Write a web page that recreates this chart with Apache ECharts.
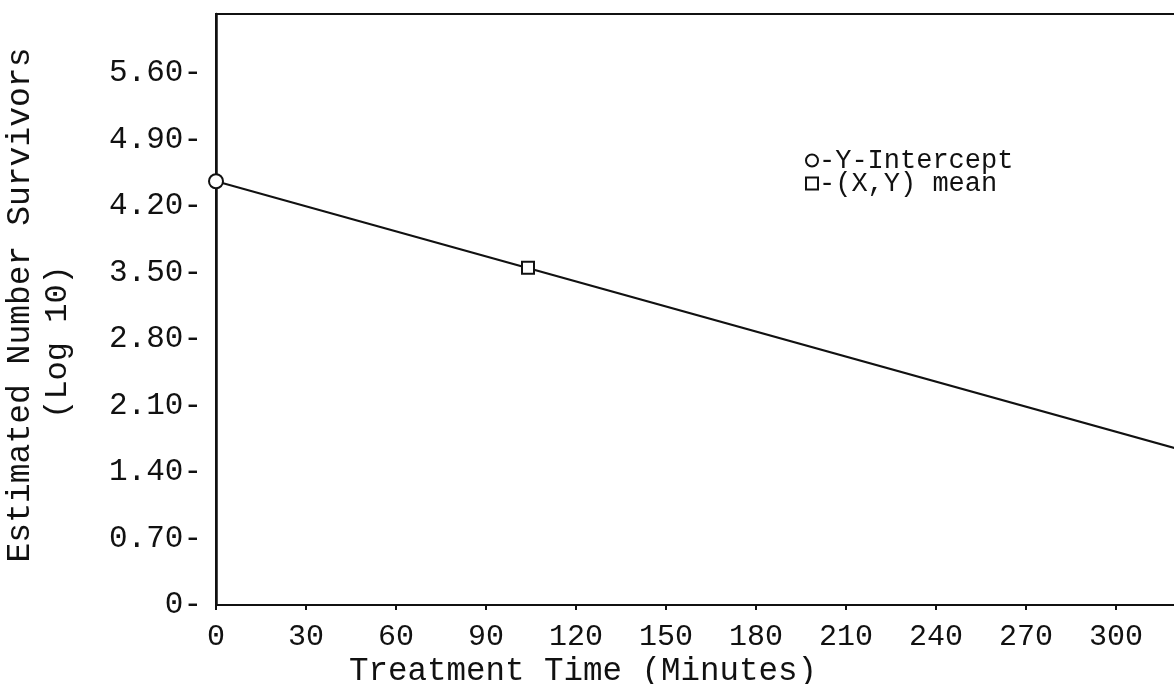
<!DOCTYPE html>
<html lang="en">
  <head>
    <meta charset="UTF-8" />
    <title>Estimated Survivors vs Treatment Time</title>
    <script src="https://cdnjs.cloudflare.com/ajax/libs/echarts/6.0.0/echarts.min.js"></script>
    <style>
      html, body { margin: 0; padding: 0; background: #fff; }
      #chart { width: 1174px; height: 684px; }
    </style>
  </head>
  <body>
    <div id="chart"></div>
    <script>
      // regression line (treatment time in minutes, log10 survivors)
      const lineX = [0, 330];
      const lineY = [4.46, 1.56];
      // marked points
      const interceptPt = [0, 4.46];
      const meanPt = [104, 3.55];
      const xTickStep = 30;
      const yTickStep = 0.7;

      const font = "'Liberation Mono', 'DejaVu Sans Mono', monospace";
      const ink = "#111";

      const chart = echarts.init(document.getElementById("chart"));

      const option = {
        backgroundColor: "#fff",
        animation: false,
        grid: {
          left: 216,
          top: 14,
          width: 990,
          bottom: 79,
          outerBoundsMode: "none",
          containLabel: false,
          show: true,
          borderColor: ink,
          borderWidth: 2,
          backgroundColor: "transparent",
        },
        legend: {
          orient: "vertical",
          left: 800,
          top: 142,
          itemWidth: 12,
          itemHeight: 12,
          itemGap: -4,
          textStyle: { fontFamily: font, fontSize: 27, color: ink, padding: [0, 0, 0, -4] },
          formatter: (name) => "-" + name,
          data: ["Y-Intercept", "(X,Y) mean"],
        },
        xAxis: {
          type: "value",
          min: 0,
          max: 330,
          interval: xTickStep,
          axisLine: { onZero: false, lineStyle: { color: ink, width: 2 } },
          axisTick: { show: true, length: 5, lineStyle: { color: ink, width: 2 } },
          splitLine: { show: false },
          axisLabel: {
            margin: 17,
            fontFamily: font,
            fontSize: 30,
            color: ink,
            formatter: (v) => (v > 300 ? "" : String(v)),
          },
        },
        yAxis: {
          type: "value",
          min: 0,
          max: 6.22,
          interval: yTickStep,
          axisLine: { show: true, onZero: false, lineStyle: { color: ink, width: 2.5 } },
          axisTick: { show: false },
          splitLine: { show: false },
          axisLabel: {
            margin: 14,
            fontFamily: font,
            fontSize: 31,
            color: ink,
            formatter: (v) => {
              const k = v / yTickStep;
              if (Math.abs(k - Math.round(k)) > 1e-6) return "";
              return v === 0 ? "0-" : v.toFixed(2) + "-";
            },
          },
        },
        graphic: [
          {
            type: "text",
            x: 583,
            y: 671,
            style: {
              text: "Treatment Time (Minutes)",
              font: "32.5px " + font,
              fill: ink,
              textAlign: "center",
              textVerticalAlign: "middle",
            },
          },
          {
            type: "text",
            x: 20,
            y: 305,
            rotation: Math.PI / 2,
            style: {
              text: "Estimated Number Survivors",
              font: "33px " + font,
              fill: ink,
              textAlign: "center",
              textVerticalAlign: "middle",
            },
          },
          {
            type: "text",
            x: 58,
            y: 342,
            rotation: Math.PI / 2,
            style: {
              text: "(Log 10)",
              font: "32px " + font,
              fill: ink,
              textAlign: "center",
              textVerticalAlign: "middle",
            },
          },
        ],
        series: [
          {
            type: "line",
            name: "fit",
            data: lineX.map((x, i) => [x, lineY[i]]),
            showSymbol: false,
            lineStyle: { color: ink, width: 2 },
            itemStyle: { color: ink },
            clip: true,
          },
          {
            type: "scatter",
            name: "Y-Intercept",
            data: [interceptPt],
            symbol: "emptyCircle",
            symbolSize: 14,
            itemStyle: { color: ink, borderColor: ink, borderWidth: 2, opacity: 1 },
            z: 5,
          },
          {
            type: "scatter",
            name: "(X,Y) mean",
            data: [meanPt],
            symbol: "emptyRect",
            symbolSize: 12,
            itemStyle: { color: ink, borderColor: ink, borderWidth: 2, opacity: 1 },
            z: 5,
          },
        ],
      };

      chart.setOption(option);
    </script>
  </body>
</html>
